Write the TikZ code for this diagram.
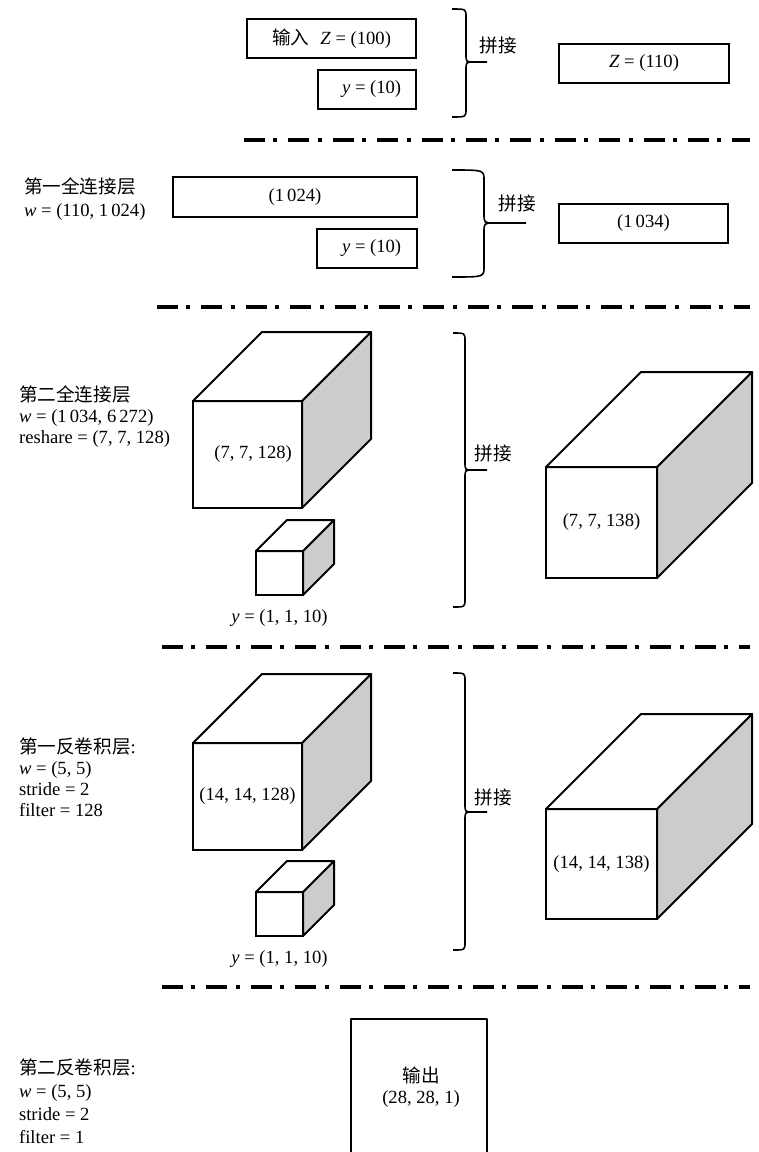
\documentclass[tikz,border=0pt]{standalone}
\usepackage{fontspec}
\setmainfont{Liberation Serif}
\newfontfamily\cjk{Noto Sans CJK SC}
\usepackage{tikz}
\usetikzlibrary{positioning}
\definecolor{Ink}{HTML}{000000}
\definecolor{Seite}{HTML}{CCCCCC}
% cuboid: name, centre x, centre y, width, height, depth, label
\newcommand{\Quader}[7]{%
  \node[front,minimum width=#4*0.5pt,minimum height=#5*0.5pt] (#1) at (#2,#3) {#7};%
  \draw[kante,fill=Seite] (#1.north east) -- ++(#6,-#6) -- ++(0,#5) -- (#1.south east) -- cycle;%
  \draw[kante,fill=white] (#1.north west) -- ++(#6,-#6) -- ++(#4,0) -- (#1.north east) -- cycle;%
}
% brace: left x, stem x, tip x, top y, tip y, bottom y, radius
\newcommand{\Klammer}[7]{%
  \draw[klammer] (#1,#4) .. controls (#2,#4) .. (#2,#4+#7) -- (#2,#5-#7)
    .. controls (#2,#5) .. (#2+#7,#5) -- (#3,#5);%
  \draw[klammer] (#2+#7,#5) .. controls (#2,#5) .. (#2,#5+#7) -- (#2,#6-#7)
    .. controls (#2,#6) .. (#1,#6);%
}

\begin{document}
\begin{tikzpicture}[x=0.5pt,y=-0.5pt,
  every node/.style={font=\fontsize{9.3}{10.5}\selectfont,text=Ink},
  kasten/.style={draw=Ink,line width=1pt,minimum height=19.5pt,inner sep=0pt,outer sep=0pt},
  front/.style={draw=Ink,fill=white,line width=1pt,inner sep=0pt,outer sep=0pt},
  kante/.style={draw=Ink,line width=1pt,line join=round},
  klammer/.style={draw=Ink,line width=0.8pt},
  trenn/.style={draw=Ink,line width=2pt,dash pattern=on 10.5pt off 4.2pt on 2pt off 5.5pt},
  legende/.style={anchor=west,align=left}]
\useasboundingbox (0,0) rectangle (759,1152);

% input
\node[kasten,minimum width=84.5pt] (in1) at (331.5,38.5) {{\cjk 输入}\hspace{0.6em}\textit{Z} = (100)};
\node[kasten,minimum width=49pt] (y1) at (367,89.5) {\hspace{0.5em}\textit{y} = (10)};
\Klammer{452}{466}{487}{9}{62}{117}{8}
\node (pj1) at (498,45) {\cjk 拼接};
\node[kasten,minimum width=85pt] (z1) at (644,63.5) {\textit{Z} = (110)};
\draw[trenn] (244,140) -- (750,140);

% fully connected 1
\node[legende] (lab2) at (17,199) {{\cjk 第一全连接层}\\[1pt]\textit{w} = (110, 1\,024)};
\node[kasten,minimum width=122pt,minimum height=20pt] (fc1) at (295,197) {(1\,024)};
\node[kasten,minimum width=50pt] (y2) at (367,248.5) {\hspace{0.5em}\textit{y} = (10)};
\Klammer{452}{484}{526}{170}{223}{277}{10}
\node (pj2) at (517,203) {\cjk 拼接};
\node[kasten,minimum width=84.5pt] (fc2) at (643.5,223.5) {(1\,034)};
\draw[trenn] (157,307) -- (750,307);

% fully connected 2
\node[legende] (lab3) at (12,417) {{\cjk 第二全连接层}\\\textit{w} = (1\,034, 6\,272)\\reshare = (7, 7, 128)};
\Quader{fc3}{247.5}{454.5}{109}{107}{69}{\hspace{0.6em}(7, 7, 128)}
\Quader{yq1}{279.5}{573}{47}{44}{31}{}
\node[below=4pt of yq1] (ylab1) {\textit{y} = (1, 1, 10)};
\Klammer{453}{465}{487}{333}{470}{607}{8}
\node (pj3) at (493,453) {\cjk 拼接};
\Quader{fc4}{601.5}{522.5}{111}{111}{95}{(7, 7, 138)}
\draw[trenn] (162,647) -- (750,647);

% deconvolution 1
\node[legende] (lab4) at (12,777) {{\cjk 第一反卷积层}:\\\textit{w} = (5, 5)\\stride = 2\\filter = 128};
\Quader{dc1}{247.5}{796.5}{109}{107}{69}{(14, 14, 128)}
\Quader{yq2}{279.5}{914}{47}{44}{31}{}
\node[below=4pt of yq2] (ylab2) {\textit{y} = (1, 1, 10)};
\Klammer{453}{465}{487}{673}{812}{950}{8}
\node (pj4) at (493,797) {\cjk 拼接};
\Quader{dc2}{601.5}{864}{111}{110}{95}{(14, 14, 138)}
\draw[trenn] (162,987) -- (750,987);

% deconvolution 2
\node[legende] (lab5) at (12,1101) {{\cjk 第二反卷积层}:\\[1pt]\textit{w} = (5, 5)\\[1pt]stride = 2\\[1pt]filter = 1};
\draw[kante] (351,1152) |- (487,1019) -- (487,1152);
\node[align=center] (out) at (421,1087) {{\cjk 输出}\\(28, 28, 1)};
\end{tikzpicture}
\end{document}
